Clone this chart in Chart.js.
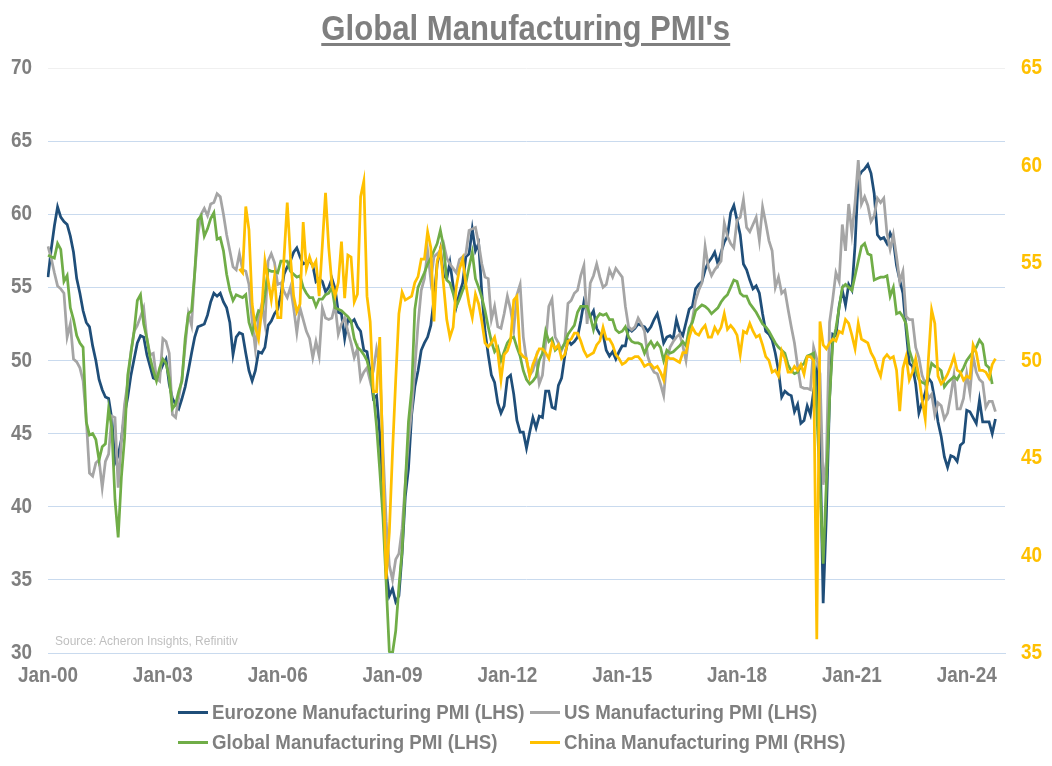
<!DOCTYPE html>
<html>
<head>
<meta charset="utf-8">
<script src="https://cdn.jsdelivr.net/npm/chart.js@4.4.1/dist/chart.umd.min.js"></script>
<style>
  body { margin: 0; background: #fff; }
  #wrap { position: relative; width: 1052px; height: 766px; font-family: 'Liberation Sans Narrow', 'Arial Narrow', 'Liberation Sans', sans-serif; }
  #title { position: absolute; top: 8px; left: 0; width: 1052px; text-align: center; }
  #title span { display: inline-block; font-size: 35px; font-weight: bold; color: #7f7f7f; text-decoration: underline; text-decoration-thickness: 3px; text-underline-offset: 3px; transform: scaleX(0.89); }
  #source { position: absolute; left: 55px; top: 634px; font-size: 12px; color: #bfbfbf; }
  .leg { position: absolute; display: flex; align-items: center; height: 26px; white-space: nowrap; }
  .leg span.t { display: inline-block; font-size: 21px; font-weight: bold; color: #7f7f7f; transform: scaleX(0.89); transform-origin: left center; }
  .mk { display: inline-block; width: 30px; height: 3px; margin-right: 4px; }
</style>
</head>
<body>
<div id="wrap">
  <canvas id="pmiChart" width="1052" height="766"></canvas>
  <div id="title"><span>Global Manufacturing PMI's</span></div>
  <div id="source">Source: Acheron Insights, Refinitiv</div>
  <div class="leg" style="left:178px; top:699px"><span class="mk" style="background:#1F4E79"></span><span class="t">Eurozone Manufacturing PMI (LHS)</span></div>
  <div class="leg" style="left:530px; top:699px"><span class="mk" style="background:#A5A5A5"></span><span class="t">US Manufacturing PMI (LHS)</span></div>
  <div class="leg" style="left:178px; top:729px"><span class="mk" style="background:#70AD47"></span><span class="t">Global Manufacturing PMI (LHS)</span></div>
  <div class="leg" style="left:530px; top:729px"><span class="mk" style="background:#FFC000"></span><span class="t">China Manufacturing PMI (RHS)</span></div>
</div>
<script>
// monthly, Jan-00 .. Oct-24 (axis runs to Jan-25)
const eurozone = [
  55.7, 57.6, 59.2, 60.5, 59.8, 59.5, 59.3, 58.5, 57.4, 55.6, 54.6, 53.4,
  52.6, 52.3, 51.0, 50.0, 48.7, 48.0, 47.5, 47.4, 46.0, 43.0, 43.5, 44.6,
  46.3, 47.5, 49.0, 50.1, 51.2, 51.7, 51.6, 50.4, 49.6, 48.8, 48.7, 49.2,
  49.7, 50.1, 48.4, 47.4, 47.0, 46.7, 47.4, 48.2, 49.3, 50.5, 51.6, 52.3,
  52.4, 52.5, 53.1, 54.0, 54.6, 54.4, 54.6, 54.0, 53.6, 52.6, 50.4, 51.6,
  51.9, 51.8, 50.5, 49.3, 48.6, 49.3, 50.6, 50.5, 50.9, 52.4, 52.7, 53.2,
  53.5, 54.5, 55.9, 56.4, 56.8, 57.4, 57.7, 57.1, 56.6, 56.7, 56.8, 56.5,
  55.4, 55.6, 55.4, 54.7, 55.0, 55.6, 54.9, 53.3, 53.2, 51.5, 52.8, 52.6,
  52.8, 52.3, 52.0, 50.7, 50.6, 49.2, 47.4, 47.6, 45.0, 41.1, 35.6, 33.9,
  34.4, 33.5, 33.9, 36.8, 40.7, 42.6, 46.3, 48.2, 49.3, 50.7, 51.2, 51.6,
  52.4, 54.2, 56.6, 57.6, 55.8, 55.6, 56.7, 55.1, 53.7, 54.6, 55.3, 57.1,
  57.3, 59.0, 57.5, 58.0, 54.6, 52.0, 50.4, 49.0, 48.5, 47.1, 46.4, 46.9,
  48.8, 49.0, 47.7, 45.9, 45.1, 45.1, 44.0, 45.1, 46.1, 45.4, 46.2, 46.1,
  47.9, 47.9, 46.8, 46.7, 48.3, 48.8, 50.3, 51.4, 51.1, 51.3, 51.6, 52.7,
  54.0, 53.2, 53.0, 53.4, 52.2, 51.8, 51.8, 50.7, 50.3, 50.6, 50.1, 50.6,
  51.0, 51.0, 52.2, 52.0, 52.2, 52.5, 52.4, 52.3, 52.0, 52.3, 52.8, 53.2,
  52.3, 51.2, 51.6, 51.7, 51.5, 52.8, 52.0, 51.7, 52.6, 53.5, 53.7, 54.9,
  55.2, 55.4, 56.2, 56.7, 57.0, 57.4, 56.6, 57.4, 58.1, 58.5, 60.1, 60.6,
  59.6, 58.6, 56.6, 56.2, 55.5, 54.9, 55.1, 54.6, 53.2, 52.0, 51.8, 51.4,
  50.5, 49.3, 47.5, 47.9, 47.7, 47.6, 46.5, 47.0, 45.7, 45.9, 46.9, 46.3,
  47.9, 49.2, 44.5, 33.4, 39.4, 47.4, 51.8, 51.7, 53.7, 54.8, 53.8, 55.2,
  54.8, 57.9, 62.5, 62.9, 63.1, 63.4, 62.8, 61.4, 58.6, 58.3, 58.4, 58.0,
  58.7, 58.2, 56.5, 55.5, 54.6, 52.1, 49.8, 49.6, 48.4, 46.4, 47.1, 47.8,
  48.8, 48.5, 47.3, 45.8, 44.8, 43.4, 42.7, 43.5, 43.4, 43.1, 44.2, 44.4,
  46.6, 46.5, 46.1, 45.7, 47.3, 45.8, 45.8, 45.8, 45.0, 46.0
];

const us = [
  57.8, 57.0, 56.0, 55.1, 54.9, 54.6, 51.6, 52.5, 50.1, 49.9, 49.5, 48.6,
  46.0, 42.3, 42.1, 43.0, 43.2, 41.3, 43.1, 43.6, 46.2, 46.1, 41.3, 44.5,
  47.0, 48.5, 50.6, 52.0, 52.4, 53.0, 53.6, 51.5, 50.4, 50.5, 48.8, 48.6,
  51.5, 51.3, 50.5, 46.3, 46.1, 47.5, 48.8, 51.0, 53.2, 52.4, 56.0, 58.6,
  60.0, 60.4, 59.9, 60.7, 60.8, 61.4, 61.2, 60.0, 58.6, 57.5, 56.4, 56.2,
  57.3, 56.2, 56.1, 55.2, 52.7, 50.8, 52.9, 53.8, 52.5, 56.8, 57.3, 56.7,
  55.2, 55.3, 54.7, 54.3, 55.0, 53.6, 51.9, 53.6, 52.8, 52.0, 51.5, 50.2,
  51.3, 50.3, 53.6, 52.9, 52.8, 52.9, 53.8, 51.8, 52.5, 52.9, 52.0, 51.2,
  50.2, 50.8, 48.7, 49.2, 49.5, 48.6, 49.3, 50.8, 49.7, 44.0, 39.0, 36.0,
  35.0, 36.4, 36.8, 38.5, 41.6, 44.5, 46.6, 49.5, 52.5, 54.8, 55.6, 57.5,
  55.5, 57.1, 57.3, 57.5, 58.0, 57.0, 56.6, 56.3, 56.0, 56.9, 57.1, 57.3,
  58.9, 59.0, 59.1, 58.0, 56.6, 55.7, 55.6, 52.8, 53.7, 52.3, 52.2, 53.2,
  54.4, 53.5, 52.1, 54.5, 55.2, 51.6, 50.0, 49.0, 49.3, 50.2, 48.4, 49.0,
  51.2, 53.7, 54.2, 51.6, 51.2, 50.7, 51.2, 53.9, 54.1, 54.6, 54.8, 55.8,
  56.5, 52.5, 55.3, 55.8, 56.6, 55.7, 55.0, 55.2, 56.2, 55.7, 56.3, 56.0,
  55.7, 53.7, 52.3, 52.1, 52.3, 52.9, 52.5, 52.0, 50.3, 49.6, 49.2, 49.1,
  48.4, 47.6, 50.0, 50.9, 51.3, 51.6, 51.8, 51.0, 50.0, 51.8, 52.8, 54.1,
  54.8, 55.3, 57.8, 56.4, 55.8, 56.2, 56.5, 56.8, 59.4, 58.5, 58.0, 57.7,
  59.6, 59.8, 61.0, 59.1, 58.8, 59.3, 59.8, 58.2, 60.5, 59.4, 58.2, 57.5,
  55.0, 55.7, 54.6, 54.8, 53.5, 52.3, 51.2, 49.6, 48.2, 48.1, 48.1, 48.0,
  50.9, 50.1, 49.1, 41.5, 43.1, 52.6, 54.2, 56.0, 55.4, 59.3, 57.5, 60.7,
  58.7, 60.8, 63.7, 60.7, 61.2, 60.6, 59.5, 59.9, 61.1, 60.8, 61.1, 58.7,
  57.6, 58.6, 57.1, 55.4, 56.1, 53.0, 52.8, 52.8, 50.9, 50.2, 49.0, 48.4,
  47.4, 47.7, 46.3, 47.1, 46.9, 46.0, 46.4, 47.6, 49.0, 46.7, 46.7, 47.4,
  49.1, 47.8, 50.3, 49.2, 48.7, 48.5, 46.8, 47.2, 47.2, 46.5
];

const global = [
  57.2, 57.1, 57.0, 58.0, 57.6, 55.4, 55.8, 53.6, 52.8, 51.7, 51.2, 50.9,
  45.8, 44.9, 45.0, 44.6, 43.2, 44.1, 44.3, 46.7, 45.4, 40.5, 37.9, 42.0,
  44.7, 49.0, 50.5, 52.0, 54.1, 54.5, 52.5, 51.5, 50.2, 49.3, 48.6, 49.5,
  50.1, 49.8, 48.8, 46.7, 47.0, 47.9, 48.6, 51.5, 53.2, 53.4, 56.0, 59.6,
  59.9, 58.5, 59.0, 59.7, 60.1, 58.3, 58.4, 57.5, 55.9, 54.8, 54.1, 54.5,
  54.4, 54.3, 54.5, 52.6, 51.9, 52.7, 53.4, 53.3, 54.5, 56.2, 56.1, 56.1,
  56.0, 56.8, 56.8, 56.8, 56.1, 55.9, 55.7, 55.8, 55.0, 54.6, 54.3, 54.3,
  53.7, 54.2, 54.2, 54.5, 54.6, 55.0, 53.6, 53.5, 53.4, 53.2, 53.0, 52.7,
  51.5, 50.9, 50.7, 50.4, 50.0, 49.1, 47.8, 45.5, 42.5, 39.3, 34.8, 30.1,
  30.0, 31.5, 34.5, 37.0, 41.5, 45.8, 48.0, 53.5, 55.0, 55.5, 56.0, 56.6,
  57.0, 57.5, 58.0, 58.9, 57.8, 55.5, 55.3, 54.6, 53.7, 54.2, 54.8, 55.3,
  56.4, 57.4, 55.6, 55.0, 54.3, 53.4, 52.3, 51.3, 50.6, 50.9, 50.0, 50.6,
  51.2, 51.5, 51.6, 50.9, 50.3, 49.3, 48.7, 48.4, 48.6, 48.9, 50.0, 50.5,
  52.0, 51.3, 51.5, 50.7, 50.9, 50.8, 51.2, 51.8, 52.1, 52.4, 53.3, 53.7,
  53.7, 53.7, 53.0, 52.1, 52.9, 53.2, 53.1, 53.2, 52.8, 52.8, 52.1, 51.9,
  52.0, 52.3, 51.6, 51.3, 51.2, 51.2, 51.1, 50.5, 51.0, 51.3, 50.9, 51.2,
  50.9, 50.0, 50.7, 50.5, 50.6, 50.8, 51.0, 51.3, 51.0, 52.2, 52.6, 53.4,
  53.6, 53.8, 53.7, 53.5, 53.2, 53.4, 53.6, 54.0, 54.3, 54.5, 55.0, 55.5,
  55.4, 54.6, 54.4, 54.4, 53.9, 53.6, 53.3, 52.9, 52.5, 52.3, 52.0, 51.6,
  51.2, 50.9, 50.7, 50.5, 49.7, 49.3, 49.1, 49.2, 49.6, 49.8, 50.3, 50.4,
  50.5, 46.5, 41.6, 36.1, 41.6, 47.3, 51.2, 52.2, 53.6, 55.0, 55.2, 55.0,
  54.8, 55.8, 56.8, 57.8, 58.0, 57.3, 57.2, 55.5, 55.6, 55.7, 55.7, 55.8,
  54.4, 55.0, 53.2, 53.3, 53.0, 52.5, 50.7, 50.0, 49.3, 48.7, 48.5, 48.4,
  48.9, 49.8, 49.6, 49.5, 49.3, 48.2, 48.5, 48.7, 48.9, 48.7, 49.1, 49.5,
  50.0, 50.3, 50.6, 50.9, 51.4, 51.1, 49.7, 49.5, 48.4
];

// China series starts Jan-05
const chinaStart = 60;
const china = [
  54.7, 54.5, 57.9, 56.7, 52.9, 51.7, 51.1, 52.6, 55.1, 54.1, 53.1, 54.3,
  52.2, 52.2, 55.3, 58.1, 55.3, 53.3, 52.5, 52.9, 57.1, 54.7, 55.3, 54.8,
  55.1, 53.3, 55.9, 58.6, 55.8, 53.9, 53.3, 54.0, 56.1, 53.2, 55.4, 55.3,
  53.0, 53.4, 58.4, 59.2, 53.3, 52.0, 48.4, 48.4, 51.2, 44.6, 38.8, 41.2,
  45.3, 49.0, 52.4, 53.5, 53.1, 53.2, 53.3, 54.0, 54.3, 55.2, 55.2, 56.6,
  55.8, 52.0, 55.1, 55.7, 53.9, 52.1, 51.2, 51.7, 53.8, 54.7, 55.2, 53.9,
  52.9, 52.2, 53.4, 52.9, 52.0, 50.9, 50.7, 50.9, 51.2, 50.4, 49.0, 50.3,
  50.5, 51.0, 53.1, 53.3, 50.4, 50.2, 50.1, 49.2, 49.8, 50.2, 50.6, 50.6,
  50.4, 50.1, 50.9, 50.6, 50.8, 50.1, 50.3, 51.0, 51.1, 51.4, 51.4, 51.0,
  50.5, 50.2, 50.3, 50.4, 50.8, 51.0, 51.7, 51.1, 51.1, 50.8, 50.3, 50.1,
  49.8, 49.9, 50.1, 50.1, 50.2, 50.2, 50.0, 49.7, 49.8, 49.8, 49.6, 49.7,
  49.4, 49.0, 50.2, 50.1, 50.1, 50.0, 49.9, 50.4, 50.4, 51.2, 51.7, 51.4,
  51.3, 51.6, 51.8, 51.2, 51.2, 51.7, 51.4, 51.7, 52.4, 51.6, 51.8, 51.6,
  51.3, 50.3, 51.5, 51.4, 51.9, 51.5, 51.2, 51.3, 50.8, 50.2, 50.0, 49.4,
  49.5, 49.2, 50.5, 50.1, 49.4, 49.4, 49.7, 49.5, 49.8, 49.3, 50.2, 50.2,
  50.0, 35.7, 52.0, 50.8, 50.6, 50.9, 51.1, 51.0, 51.5, 51.4, 52.1, 51.9,
  51.3, 50.6, 51.9, 51.1, 51.0, 50.9, 50.4, 50.1, 49.6, 49.2, 50.1, 50.3,
  50.1, 50.2, 49.5, 47.4, 49.6, 50.2, 49.0, 49.4, 50.1, 49.2, 48.0, 47.0,
  50.1, 52.6, 51.9, 49.2, 48.8, 49.0, 49.3, 49.7, 50.2, 49.5, 49.4, 49.0,
  49.2, 49.1, 50.8, 50.4, 49.5, 49.5, 49.4, 49.1, 49.8, 50.1
];

const tickLabels = ['Jan-00', 'Jan-03', 'Jan-06', 'Jan-09', 'Jan-12', 'Jan-15', 'Jan-18', 'Jan-21', 'Jan-24'];

const monthNames = ['Jan', 'Feb', 'Mar', 'Apr', 'May', 'Jun', 'Jul', 'Aug', 'Sep', 'Oct', 'Nov', 'Dec'];
const months = [];
for (let y = 2000; y <= 2025; y++) {
  for (let m = 0; m < 12; m++) {
    if (y === 2025 && m > 0) break;
    months.push(monthNames[m] + '-' + String(y).slice(2));
  }
}

const chinaData = new Array(chinaStart).fill(null).concat(china);

const gridBlue = '#C9DAEE';

// the original uses a condensed font, so the axis labels are drawn horizontally squeezed
const narrowTicks = {
  id: 'narrowTicks',
  afterDraw(chart) {
    const ctx = chart.ctx;
    const { x, y, y2 } = chart.scales;
    const draw = (text, px, py, align, baseline, color) => {
      ctx.save();
      ctx.translate(px, py);
      ctx.scale(0.86, 1);
      ctx.font = "bold 22px 'Liberation Sans', Arial, sans-serif";
      ctx.textAlign = align;
      ctx.textBaseline = baseline;
      ctx.fillStyle = color;
      ctx.fillText(text, 0, 0);
      ctx.restore();
    };
    months.forEach((lab, i) => {
      if (tickLabels.includes(lab)) draw(lab, x.getPixelForValue(i), x.top + 12, 'center', 'top', '#7f7f7f');
    });
    y.ticks.forEach(t => draw(String(t.value), y.right - 16, y.getPixelForValue(t.value), 'right', 'middle', '#7f7f7f'));
    y2.ticks.forEach(t => draw(String(t.value), y2.left + 16, y2.getPixelForValue(t.value), 'left', 'middle', '#FFC000'));
  }
};

new Chart(document.getElementById('pmiChart'), {
  type: 'line',
  data: {
    labels: months,
    datasets: [
      { label: 'Eurozone Manufacturing PMI (LHS)', data: eurozone, borderColor: '#1F4E79', yAxisID: 'y', order: 3 },
      { label: 'US Manufacturing PMI (LHS)', data: us, borderColor: '#A5A5A5', yAxisID: 'y', order: 2 },
      { label: 'Global Manufacturing PMI (LHS)', data: global, borderColor: '#70AD47', yAxisID: 'y', order: 1 },
      { label: 'China Manufacturing PMI (RHS)', data: chinaData, borderColor: '#FFC000', yAxisID: 'y2', order: 0 }
    ]
  },
  options: {
    responsive: false,
    animation: false,
    layout: { padding: { top: 68, bottom: 68, left: 0, right: 0 } },
    elements: {
      point: { radius: 0 },
      line: { tension: 0, borderWidth: 2.75, fill: false }
    },
    plugins: { legend: { display: false }, tooltip: { enabled: false } },
    scales: {
      x: {
        grid: { display: false, drawTicks: false },
        border: { display: true, color: gridBlue },
        ticks: { display: false, autoSkip: false, maxRotation: 0 },
        afterFit: s => { s.height = 45; }
      },
      y: {
        position: 'left', min: 30, max: 70,
        ticks: { display: false, stepSize: 5 },
        grid: { color: c => c.tick && c.tick.value === 70 ? '#F0F0F0' : gridBlue, drawTicks: false },
        border: { display: false },
        afterFit: s => { s.width = 48; }
      },
      y2: {
        position: 'right', min: 35, max: 65,
        ticks: { display: false, stepSize: 5 },
        grid: { display: false, drawTicks: false },
        border: { display: false },
        afterFit: s => { s.width = 47; }
      }
    }
  },
  plugins: [narrowTicks]
});
</script>
</body>
</html>
